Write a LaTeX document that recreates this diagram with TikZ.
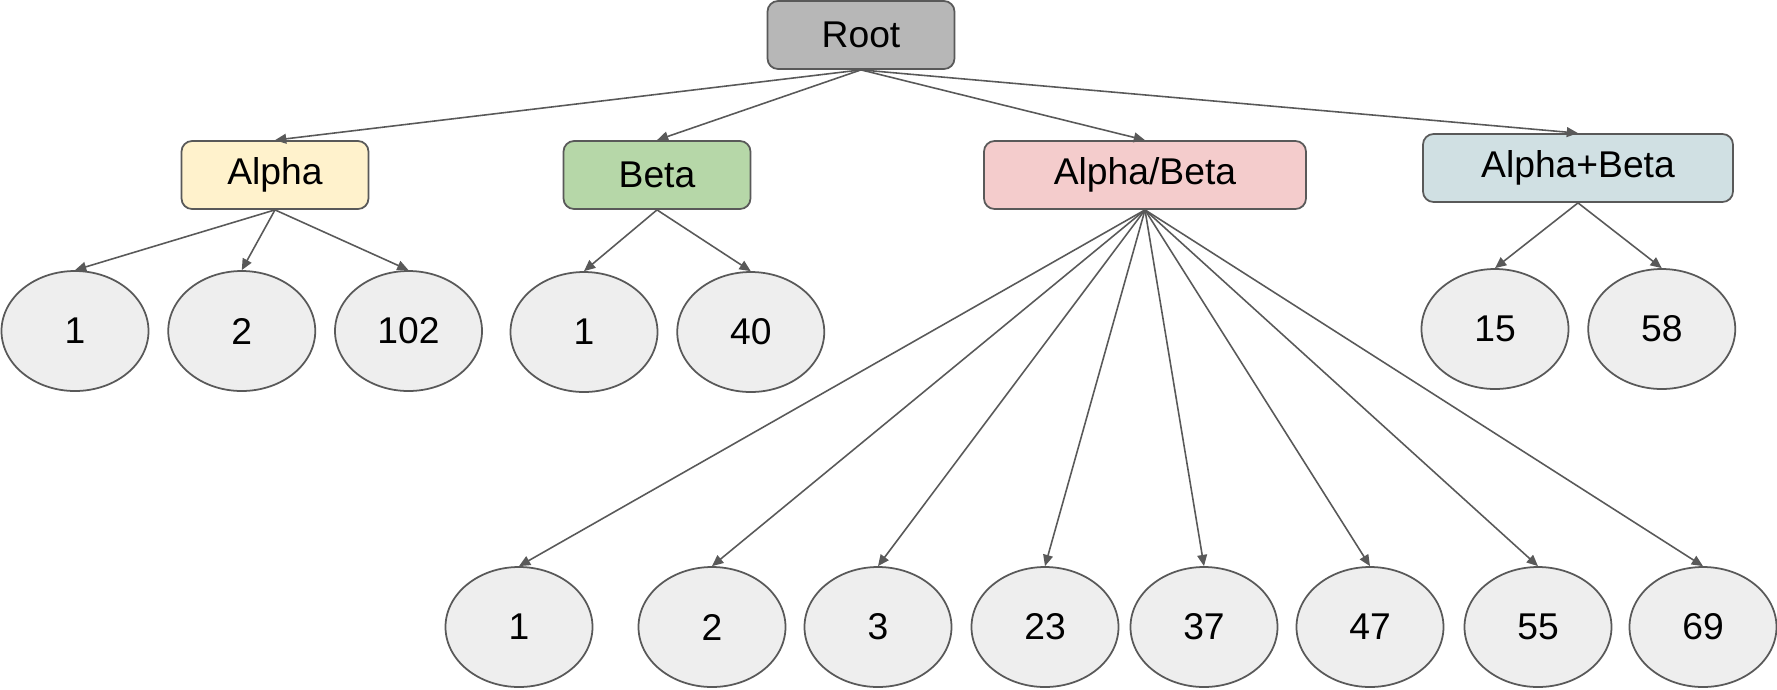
\documentclass[tikz,border=0pt]{standalone}
\usepackage{fontspec}
\setmainfont{Liberation Sans}
\usetikzlibrary{arrows.meta, positioning, shapes.geometric}

\definecolor{edgegray}{HTML}{595959}
\definecolor{rootgray}{HTML}{B7B7B7}
\definecolor{alphafill}{HTML}{FFF2CC}
\definecolor{betafill}{HTML}{B6D7A8}
\definecolor{mixfill}{HTML}{F4CCCC}
\definecolor{sumfill}{HTML}{D0E0E3}
\definecolor{leaffill}{HTML}{EEEEEE}

\begin{document}
\begin{tikzpicture}[
  >={Triangle[length=3.2pt, width=2.8pt]},
  catbox/.style={rectangle, draw=edgegray, line width=0.5pt, rounded corners=3pt, align=center, font=\fontsize{10.6}{12}\selectfont, minimum width=1.87cm, minimum height=0.68cm, inner sep=0pt},
  leaf/.style={ellipse, draw=edgegray, line width=0.5pt, fill=leaffill, font=\fontsize{10.6}{12}\selectfont, minimum width=1.47cm, minimum height=1.2cm, inner sep=0pt},
  link/.style={->, draw=edgegray, line width=0.45pt}
]
\useasboundingbox (0,0) rectangle (17.77,-6.89);

% Top and category level
\node[catbox, fill=rootgray] (root) at (8.61,-0.35) {Root};
\node[catbox, fill=alphafill] (alpha) at (2.75,-1.75) {Alpha};
\node[catbox, fill=betafill] (beta) at (6.57,-1.75) {Beta};
\node[catbox, fill=mixfill, minimum width=3.22cm] (mix) at (11.45,-1.75) {Alpha/Beta};
\node[catbox, fill=sumfill, minimum width=3.10cm] (sum) at (15.78,-1.68) {Alpha+Beta};

% Leaves under Alpha
\node[leaf] (a1) at (0.75,-3.31) {1};
\node[leaf, right=0.18cm of a1] (a2) {2};
\node[leaf, right=0.18cm of a2] (a3) {102};

% Leaves under Beta
\node[leaf] (b1) at (5.84,-3.32) {1};
\node[leaf, right=0.18cm of b1] (b2) {40};

% Leaves under Alpha+Beta
\node[leaf] (s1) at (14.95,-3.29) {15};
\node[leaf, right=0.18cm of s1] (s2) {58};

% Leaves under Alpha/Beta
\foreach \x/\t [count=\i] in {5.19/1, 7.12/2, 8.78/3, 10.45/23, 12.04/37, 13.70/47, 15.38/55, 17.03/69} {
  \node[leaf] (m\i) at (\x,-6.27) {\t};
}

% Connectors
\foreach \c in {alpha, beta, mix, sum} {
  \draw[link] (root.south) -- (\c.north);
}
\foreach \c in {a1, a2, a3} {
  \draw[link] (alpha.south) -- (\c.north);
}
\foreach \c in {b1, b2} {
  \draw[link] (beta.south) -- (\c.north);
}
\foreach \c in {s1, s2} {
  \draw[link] (sum.south) -- (\c.north);
}
\foreach \i in {1,...,8} {
  \draw[link] (mix.south) -- (m\i.north);
}

\end{tikzpicture}
\end{document}
